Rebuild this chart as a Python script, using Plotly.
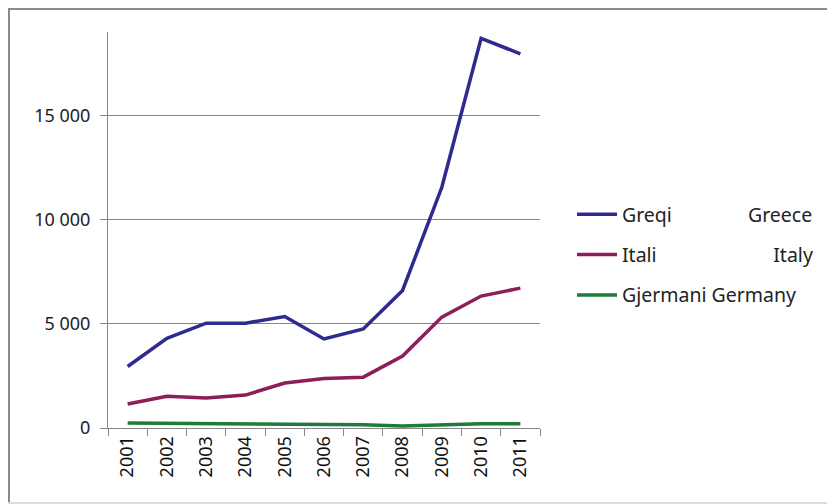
import plotly.graph_objects as go

years = ["2001", "2002", "2003", "2004", "2005", "2006", "2007", "2008", "2009", "2010", "2011"]
greece = [2950, 4300, 5030, 5030, 5350, 4270, 4750, 6600, 11550, 18700, 17950]
italy = [1150, 1520, 1440, 1580, 2160, 2380, 2440, 3450, 5320, 6330, 6710]
germany = [240, 230, 190, 190, 190, 190, 150, 100, 150, 200, 200]

names = [
    "Greqi" + "\u00a0" * 15 + "Greece",
    "Itali" + "\u00a0" * 23 + "Italy",
    "Gjermani Germany",
]
colors = ["#2E2A8E", "#8C1E58", "#1E7B3A"]

fig = go.Figure()
for i, (name, vals, col) in enumerate(zip(names, [greece, italy, germany], colors)):
    fig.add_trace(go.Scatter(x=years, y=vals, name=name, mode="lines", legendgroup=str(i),
                             line=dict(color=col, width=3.5)))

# page adds ~8px offset, so target coords are shifted by -8
OFF = 8
L, T, W, H = 108 - OFF, 32 - OFF, 432, 396
def px(x):
    return (x - OFF - L) / W
def py(y):
    return (T + H - (y - OFF)) / H

fig.update_layout(
    width=835, height=504,
    margin=dict(l=L, r=835 - L - W, t=T, b=504 - T - H, autoexpand=False),
    paper_bgcolor="white", plot_bgcolor="white",
    font=dict(family="Noto Sans", size=18, color="#222"),
    separators=". ",
    showlegend=True,
    legend=dict(x=px(572), y=py(195), xanchor="left", yanchor="top",
                font=dict(size=19.5), tracegroupgap=12, itemwidth=40,
                bgcolor="rgba(0,0,0,0)"),
    shapes=[
        dict(type="line", xref="paper", yref="paper", x0=px(9), x1=px(9), y0=py(9), y1=py(510),
             line=dict(color="#8a8a8a", width=2)),
        dict(type="line", xref="paper", yref="paper", x0=px(8), x1=px(845), y0=py(9), y1=py(9),
             line=dict(color="#8a8a8a", width=2)),
        dict(type="line", xref="paper", yref="paper", x0=px(8), x1=px(845), y0=py(503), y1=py(503),
             line=dict(color="#dddddd", width=2)),
    ],
)
fig.update_xaxes(type="category", range=[-0.5, 10.5], tickson="boundaries", ticks="outside", ticklen=7,
                 tickcolor="#868686", showline=True, linecolor="#868686", linewidth=1,
                 tickangle=-90, showgrid=False, automargin=False, tickfont=dict(size=18, color="#111"))
fig.update_yaxes(range=[0, 19000], tickvals=[0, 5000, 10000, 15000], tickformat=",",
                 ticks="outside", ticklen=7, tickcolor="#868686",
                 showline=True, linecolor="#868686", linewidth=1, automargin=False,
                 showgrid=True, gridcolor="#868686", gridwidth=1, zeroline=False,
                 tickfont=dict(size=18, color="#222"), ticklabelstandoff=6)

fig.write_html("out.html")
